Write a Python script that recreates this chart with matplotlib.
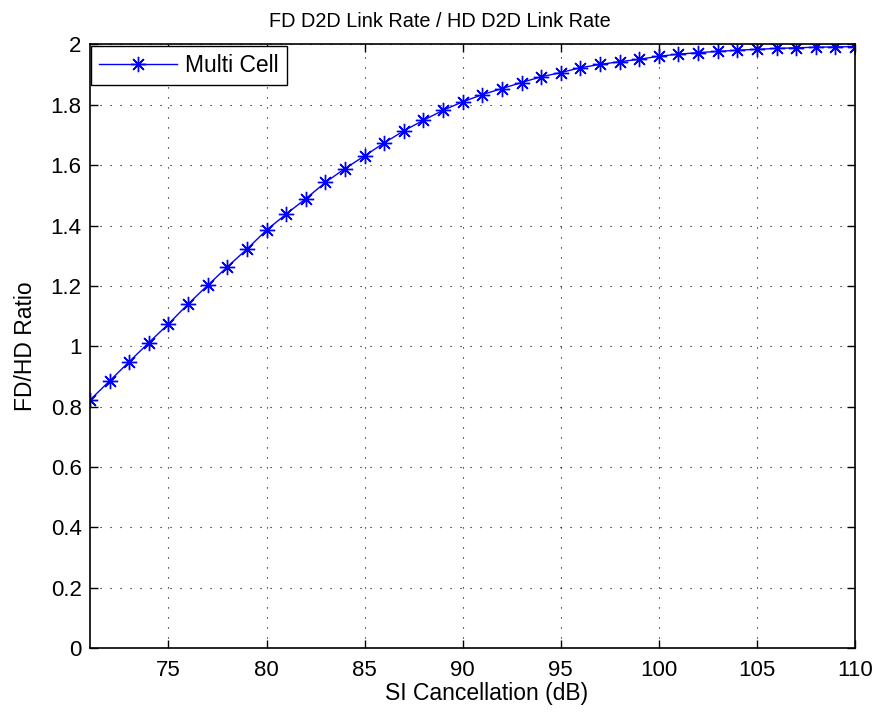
import numpy as np
import matplotlib
matplotlib.use("Agg")
import matplotlib.pyplot as plt

plt.rcParams['font.family'] = ['Liberation Sans', 'DejaVu Sans']

# SI cancellation (dB) and FD/HD rate ratio
si_cancel = list(range(71, 111))
ratio = [0.822, 0.885, 0.949, 1.012, 1.074, 1.140, 1.202, 1.263, 1.322, 1.385,
         1.438, 1.489, 1.543, 1.589, 1.631, 1.674, 1.714, 1.749, 1.782, 1.810,
         1.834, 1.854, 1.874, 1.893, 1.907, 1.923, 1.934, 1.943, 1.951, 1.961,
         1.968, 1.973, 1.977, 1.981, 1.984, 1.987, 1.989, 1.991, 1.992, 1.993]
xticks = [75, 80, 85, 90, 95, 100, 105, 110]
yticks = [0, 0.2, 0.4, 0.6, 0.8, 1, 1.2, 1.4, 1.6, 1.8, 2]
ytick_labels = ['0', '0.2', '0.4', '0.6', '0.8', '1', '1.2', '1.4', '1.6', '1.8', '2']

fig = plt.figure(figsize=(8.8, 7.13), dpi=100)
ax = fig.add_axes([0.1023, 0.0912, 0.8693, 0.8464])

ax.plot(si_cancel, ratio, color='blue', lw=1.0, marker=(8, 2, 0),
        markersize=11, markeredgewidth=1.0, label='Multi Cell')

ax.set_xlim(71, 110)
ax.set_ylim(0, 2)
ax.set_xticks(xticks)
ax.set_yticks(yticks)
ax.set_yticklabels(ytick_labels)
ax.tick_params(direction='in', top=True, right=True, labelsize=16,
               length=6, width=1)
ax.tick_params(axis='x', pad=9)
ax.tick_params(axis='y', pad=6)
ax.grid(True, color='black', linestyle=(0, (1, 8)), linewidth=0.8)
for s in ax.spines.values():
    s.set_linewidth(1.2)

# title sits centred on the figure, not the axes
fig.text(0.5, 0.962, 'FD D2D Link Rate / HD D2D Link Rate', fontsize=14.3,
         ha='center', va='baseline')
ax.set_xlabel('SI Cancellation (dB)', fontsize=16.5)
ax.xaxis.set_label_coords(0.518, -0.057)
ax.xaxis.label.set_va('top')
ax.set_ylabel('FD/HD Ratio', fontsize=16.5, labelpad=10)

leg = ax.legend(loc='upper left', fontsize=16.5, fancybox=False,
                framealpha=1, edgecolor='black', borderaxespad=0.05,
                handlelength=3.4, handletextpad=0.35, borderpad=0.35)
leg.get_frame().set_linewidth(1.0)

fig.savefig('out.png', dpi=100)
